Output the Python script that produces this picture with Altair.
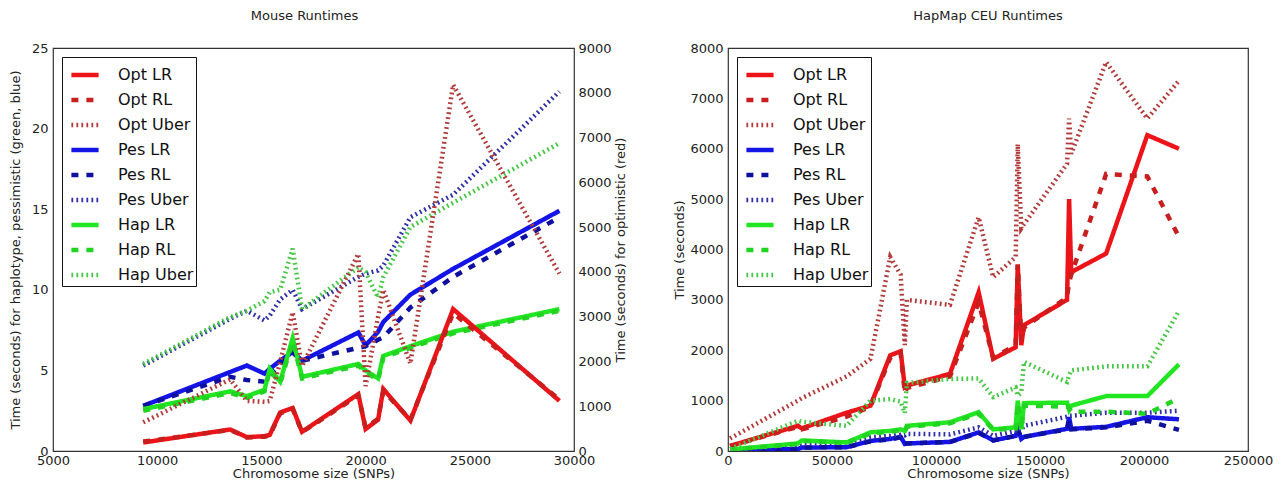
import altair as alt
import pandas as pd

SERIES = ["Opt LR", "Opt RL", "Opt Uber", "Pes LR", "Pes RL", "Pes Uber", "Hap LR", "Hap RL", "Hap Uber"]
COLORS = ["#EC1418", "#C81E1E", "#B23A3A", "#1414E6", "#1010A0", "#3030A8", "#22E622", "#22D422", "#48C848"]
DASHES = [[1, 0], [7, 8], [1.8, 3.2], [1, 0], [7, 8], [1.8, 3.2], [1, 0], [7, 8], [1.8, 3.2]]

# ---------------- Mouse (chromosome size in SNPs) ----------------
mouse_x = [9330, 13500, 14300, 15150, 15400, 15900, 16500, 16950, 19650, 20000, 20600, 20850, 22150, 24200, 29300]
# optimistic (right axis, seconds)
mouse_opt_lr = [190, 480, 310, 330, 360, 860, 960, 430, 1270, 490, 700, 1385, 680, 3170, 1120]
mouse_opt_rl = [210, 470, 300, 320, 350, 840, 940, 420, 1240, 520, 720, 1340, 700, 3080, 1150]
mouse_opt_uber = [640, 1600, 1120, 1100, 1120, 1990, 3100, 1900, 4400, 1450, 3000, 3600, 1950, 8180, 3960]
# pessimistic / haplotype (left axis, seconds)
mouse_pes_lr = [2.8, 4.9, 5.3, 4.8, 5.1, 5.6, 6.15, 5.6, 7.35, 6.55, 7.4, 8.0, 9.7, 11.3, 14.9]
mouse_pes_rl = [2.8, 4.6, 4.4, 4.3, 4.7, 5.4, 6.1, 5.6, 6.4, 6.5, 6.9, 7.05, 8.9, 10.8, 14.5]
mouse_pes_uber = [5.3, 8.2, 8.7, 8.1, 8.4, 9.4, 10.0, 8.8, 10.8, 11.0, 11.2, 11.5, 14.5, 15.9, 22.3]
mouse_hap_lr = [2.6, 3.7, 3.4, 3.8, 5.1, 4.3, 7.0, 4.6, 5.4, 5.0, 4.5, 5.9, 6.5, 7.4, 8.8]
mouse_hap_rl = [2.5, 3.6, 3.3, 3.7, 5.0, 4.2, 6.8, 4.5, 5.3, 4.9, 4.4, 5.8, 6.4, 7.3, 8.7]
mouse_hap_uber = [5.4, 8.3, 8.7, 9.3, 9.85, 10.0, 12.55, 8.8, 11.4, 11.1, 9.5, 10.8, 13.9, 15.4, 19.1]

# ---------------- HapMap CEU ----------------
hap_x = [1000, 33600, 35500, 57000, 68500, 78000, 83000, 85000, 86000, 106700, 120500,
         127500, 138300, 139300, 141000, 142300, 163000, 164000, 165000, 181800, 201600, 216800]
hm_opt_lr = [100, 500, 450, 760, 900, 1900, 1980, 1270, 1300, 1530, 3150,
             1830, 2060, 3700, 2100, 2500, 3000, 5000, 3550, 3920, 6270, 6000]
hm_opt_rl = [100, 480, 430, 680, 880, 1850, 1950, 1150, 1250, 1480, 2950,
             1850, 2100, 3700, 2200, 2450, 3050, 3350, 3500, 5500, 5450, 4250]
hm_opt_uber = [250, 1000, 1050, 1480, 1830, 3850, 3500, 2100, 3000, 2900, 4640,
               3450, 3850, 6090, 4420, 4500, 5700, 6600, 5900, 7720, 6600, 7350]
hm_pes_lr = [10, 40, 70, 75, 200, 240, 280, 140, 150, 180, 370,
             210, 300, 440, 240, 280, 440, 670, 440, 480, 670, 630]
hm_pes_rl = [10, 40, 70, 75, 190, 230, 270, 140, 150, 180, 360,
             210, 300, 430, 240, 280, 430, 600, 430, 470, 600, 420]
hm_pes_uber = [10, 120, 140, 170, 270, 300, 320, 310, 340, 330, 470,
               300, 400, 450, 420, 500, 680, 700, 700, 760, 760, 800]
hm_hap_lr = [30, 150, 210, 170, 370, 400, 430, 400, 500, 570, 770,
             430, 470, 1000, 430, 950, 960, 820, 900, 1090, 1090, 1720]
hm_hap_rl = [30, 140, 200, 160, 350, 380, 410, 380, 480, 550, 740,
             420, 450, 950, 420, 900, 880, 850, 780, 780, 740, 1050]
hm_hap_uber = [40, 600, 580, 500, 1000, 1030, 980, 750, 1350, 1430, 1440,
               1070, 1260, 1100, 1160, 1770, 1370, 1500, 1600, 1680, 1680, 2780]


def to_long(xs, named):
    rows = []
    for name, ys in named.items():
        for i, (x, y) in enumerate(zip(xs, ys)):
            rows.append({"size": x, "t": y, "series": name, "k": SERIES.index(name) * 100 + i})
    return pd.DataFrame(rows)


mouse_red = to_long(mouse_x, {"Opt LR": mouse_opt_lr, "Opt RL": mouse_opt_rl, "Opt Uber": mouse_opt_uber})
mouse_bg = to_long(mouse_x, {"Pes LR": mouse_pes_lr, "Pes RL": mouse_pes_rl, "Pes Uber": mouse_pes_uber,
                             "Hap LR": mouse_hap_lr, "Hap RL": mouse_hap_rl, "Hap Uber": mouse_hap_uber})
hapmap = to_long(hap_x, {"Opt LR": hm_opt_lr, "Opt RL": hm_opt_rl, "Opt Uber": hm_opt_uber,
                         "Pes LR": hm_pes_lr, "Pes RL": hm_pes_rl, "Pes Uber": hm_pes_uber,
                         "Hap LR": hm_hap_lr, "Hap RL": hm_hap_rl, "Hap Uber": hm_hap_uber})

FONT = "DejaVu Sans"

legend = alt.Legend(
    title=None, orient="top-left", offset=9, symbolType="stroke", symbolSize=740,
    symbolStrokeWidth=4.5, labelFontSize=16, labelFont=FONT, labelColor="#111",
    strokeColor="#111", fillColor="white", padding=2, rowPadding=0, labelOffset=17,
    symbolOffset=5, cornerRadius=0, symbolLimit=20,
)


def color_enc():
    return alt.Color("series:N", scale=alt.Scale(domain=SERIES, range=COLORS), legend=legend, sort=SERIES)


def dash_enc():
    return alt.StrokeDash("series:N", scale=alt.Scale(domain=SERIES, range=DASHES), legend=legend, sort=SERIES)


def x_enc(domain, values):
    return alt.X("size:Q", scale=alt.Scale(domain=domain, nice=False, zero=False),
                 axis=alt.Axis(title="Chromosome size (SNPs)", values=values, labelFlush=False,
                               labelOverlap=False, format="d"))


line_kw = dict(strokeWidth=4.5, clip=True, strokeCap="butt", strokeJoin="miter")

left_bg = alt.Chart(mouse_bg).mark_line(**line_kw).encode(
    x=x_enc([5000, 30000], [5000, 10000, 15000, 20000, 25000, 30000]),
    y=alt.Y("t:Q", scale=alt.Scale(domain=[0, 25], nice=False),
            axis=alt.Axis(orient="left", title="Time (seconds) for haplotype, pessimistic (green, blue)",
                          values=[0, 5, 10, 15, 20, 25], titlePadding=9)),
    color=color_enc(), strokeDash=dash_enc(), order="k:Q",
)
left_red = alt.Chart(mouse_red).mark_line(**line_kw).encode(
    x=x_enc([5000, 30000], [5000, 10000, 15000, 20000, 25000, 30000]),
    y=alt.Y("t:Q", scale=alt.Scale(domain=[0, 9000], nice=False),
            axis=alt.Axis(orient="right", title="Time (seconds) for optimistic (red)",
                          values=list(range(0, 9001, 1000)), titlePadding=16, format="d",
                          titleAngle=270, labelPadding=4)),
    color=color_enc(), strokeDash=dash_enc(), order="k:Q",
)
left = alt.layer(left_bg, left_red).resolve_scale(y="independent").properties(
    width=521, height=403, title=alt.TitleParams("Mouse Runtimes", dx=-9))

right = alt.Chart(hapmap).mark_line(**line_kw).encode(
    x=x_enc([0, 250000], [0, 50000, 100000, 150000, 200000, 250000]),
    y=alt.Y("t:Q", scale=alt.Scale(domain=[0, 8000], nice=False),
            axis=alt.Axis(orient="left", title="Time (seconds)", values=list(range(0, 8001, 1000)),
                          titlePadding=3, format="d")),
    color=color_enc(), strokeDash=dash_enc(), order="k:Q",
).properties(width=520, height=403, title="HapMap CEU Runtimes")

chart = alt.hconcat(left, right, spacing=154, bounds="flush").resolve_scale(
    color="independent", strokeDash="independent"
).resolve_legend(color="independent", strokeDash="independent").properties(
    padding={"left": 8, "top": 9, "right": 5, "bottom": 2}
).configure_view(stroke="#333", strokeWidth=1.2).configure_axis(
    labelFont=FONT, labelFontSize=13, labelColor="#222", titleFont=FONT, titleFontSize=13,
    titleFontWeight="normal", titleColor="#222", grid=False, ticks=False, domain=False,
    labelPadding=5,
).configure_axisX(titlePadding=0, labelPadding=3).configure_title(
    font=FONT, fontSize=13, fontWeight="normal", color="#222", anchor="middle", offset=19
)

chart.save("out.html", embed_options={"renderer": "svg", "actions": False})
